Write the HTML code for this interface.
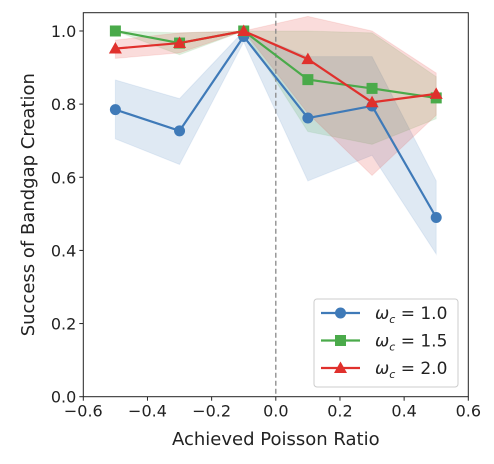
<!DOCTYPE html>
<html><head><meta charset="utf-8"><style>
body{margin:0;background:#fff;}
svg text{font-family:"DejaVu Sans","Liberation Sans",sans-serif;fill:#222;}
</style></head><body>
<svg id="c" width="494" height="459" xmlns="http://www.w3.org/2000/svg"></svg>
<script>
const xs=[-0.5,-0.3,-0.1,0.1,0.3,0.5];
const blue=[0.785,0.727,0.985,0.762,0.795,0.49];
const blueLo=[0.705,0.635,0.97,0.59,0.66,0.39];
const blueHi=[0.866,0.815,1.0,0.93,0.93,0.59];
const green=[1.0,0.967,1.0,0.867,0.843,0.817];
const greenLo=[1.0,0.935,1.0,0.725,0.69,0.76];
const greenHi=[1.0,0.995,1.0,1.0,0.995,0.875];
const red=[0.952,0.967,1.0,0.923,0.805,0.828];
const redLo=[0.925,0.94,1.0,0.775,0.605,0.77];
const redHi=[0.975,0.995,1.0,1.04,1.0,0.885];
const xTicks=[-0.6,-0.4,-0.2,0.0,0.2,0.4,0.6];
const xTickLabels=["\u22120.6","\u22120.4","\u22120.2","0.0","0.2","0.4","0.6"];
const yTicks=[0,0.2,0.4,0.6,0.8,1.0];
const yTickLabels=["0.0","0.2","0.4","0.6","0.8","1.0"];

const L=83.3,R=468.3,T=12.7,B=396.7;
const X=v=>L+(v+0.6)/1.2*(R-L);
const Y=v=>B-v/1.05*(B-T);
const svg=document.getElementById('c');
const NS="http://www.w3.org/2000/svg";
function mk(tag,attrs,parent){const e=document.createElementNS(NS,tag);for(const k in attrs)e.setAttribute(k,attrs[k]);(parent||svg).appendChild(e);return e;}

const series=[
 {name:'omega-1-0',v:blue,lo:blueLo,hi:blueHi,c:'#3f7ab8',f:'#3f7ab8',m:'circle'},
 {name:'omega-1-5',v:green,lo:greenLo,hi:greenHi,c:'#4aaa4a',f:'#4aaa4a',m:'square'},
 {name:'omega-2-0',v:red,lo:redLo,hi:redHi,c:'#e0302c',f:'#e0302c',m:'tri'}
];
// bands
series.forEach(s=>{
 let pts=xs.map((x,i)=>X(x)+','+Y(s.hi[i]));
 pts=pts.concat(xs.map((x,i)=>X(x)+','+Y(s.lo[i])).reverse());
 const p=mk('polygon',{points:pts.join(' '),fill:s.f,'fill-opacity':0.17,stroke:s.f,'stroke-opacity':0.1});
 
 
});
// zero line
const zl=mk('line',{x1:X(0),x2:X(0),y1:T,y2:B,stroke:'#888','stroke-width':1.3,'stroke-dasharray':'5,3'});


function marker(s,cx,cy,g){
 let e;
 if(s.m==='circle') e=mk('circle',{cx:cx,cy:cy,r:5.5,fill:s.c},g);
 else if(s.m==='square') e=mk('rect',{x:cx-5.5,y:cy-5.5,width:11,height:11,fill:s.c},g);
 else e=mk('polygon',{points:`${cx},${cy-6.5} ${cx+6.5},${cy+5} ${cx-6.5},${cy+5}`,fill:s.c},g);
 return e;
}
series.forEach(s=>{
 const g=mk('g',{});
 
 
 const l=mk('polyline',{points:xs.map((x,i)=>X(x)+','+Y(s.v[i])).join(' '),fill:'none',stroke:s.c,'stroke-width':2.2},g);
 
 
 xs.forEach((x,i)=>{const m=marker(s,X(x),Y(s.v[i]),g);
  
  });
});
// axes frame
const fr=mk('rect',{x:L,y:T,width:R-L,height:B-T,fill:'none',stroke:'#222','stroke-width':1});


xTicks.forEach((t,i)=>{
 mk('line',{x1:X(t),x2:X(t),y1:B,y2:B+4,stroke:'#222'});
 const tx=mk('text',{x:X(t),y:B+20,'text-anchor':'middle','font-size':16});
 tx.textContent=xTickLabels[i];
 
 
});
yTicks.forEach((t,i)=>{
 mk('line',{x1:L-4,x2:L,y1:Y(t),y2:Y(t),stroke:'#222'});
 const tx=mk('text',{x:L-7,y:Y(t)+6,'text-anchor':'end','font-size':16});
 tx.textContent=yTickLabels[i];
 
 
});
const xt=mk('text',{x:(L+R)/2,y:445,'text-anchor':'middle','font-size':18});
xt.textContent='Achieved Poisson Ratio';


const yt=mk('text',{x:0,y:0,'text-anchor':'middle','font-size':18,transform:`translate(34,${(T+B)/2}) rotate(-90)`});
yt.textContent='Success of Bandgap Creation';


// legend
const lg=mk('g',{});


mk('rect',{x:314,y:299,width:144,height:88,rx:3,fill:'#fff','fill-opacity':0.85,stroke:'#ccc'},lg);
const labs=['1.0','1.5','2.0'];
series.forEach((s,i)=>{
 const y=313+i*27.5;
 const e=mk('g',{},lg);
 
 
 mk('line',{x1:321,x2:360,y1:y,y2:y,stroke:s.c,'stroke-width':2.2},e);
 marker(s,340.5,y,e);
 const t=mk('text',{x:375,y:y+6,'font-size':17},e);
 t.innerHTML=`<tspan font-style="italic">ω</tspan><tspan font-style="italic" font-size="11" dy="4">c</tspan><tspan dy="-4"> = ${labs[i]}</tspan>`;
});
</script>
</body></html>
